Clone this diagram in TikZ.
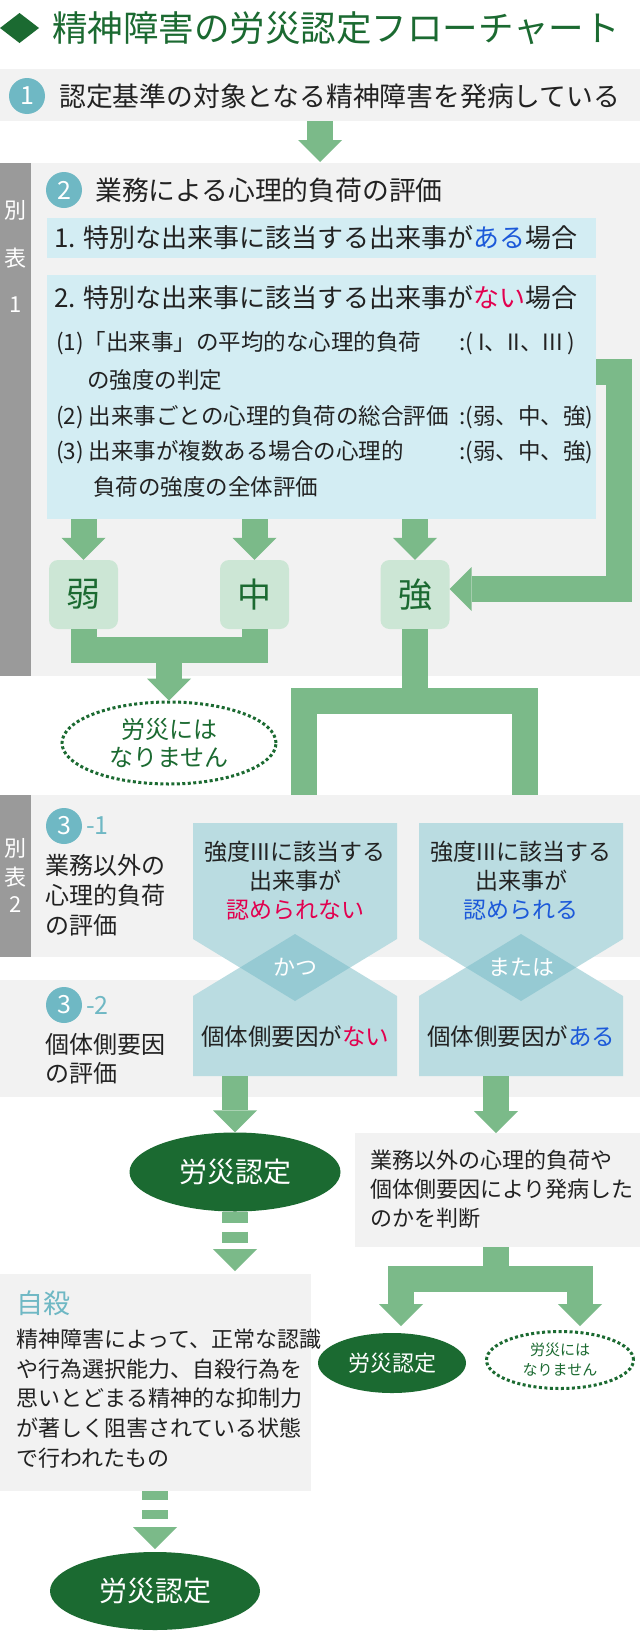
\documentclass[tikz,border=0pt]{standalone}
\usepackage{fontspec}
\setmainfont{Noto Sans CJK JP}
\usetikzlibrary{arrows.meta,shapes.geometric}
\definecolor{dgreen}{HTML}{1B6A31}
\definecolor{agreen}{HTML}{7BBA89}
\definecolor{lgreen}{HTML}{CCE6D5}
\definecolor{cteal}{HTML}{6FB8C4}
\definecolor{lblue}{HTML}{D3EDF3}
\definecolor{mblue}{HTML}{BADCE1}
\definecolor{dblue}{HTML}{96CAD3}
\definecolor{bgrey}{HTML}{F2F2F2}
\definecolor{dgrey}{HTML}{9A9A9A}
\definecolor{tblue}{HTML}{1C59D9}
\definecolor{tred}{HTML}{E2004F}
\definecolor{tblack}{HTML}{222222}
\newcommand\fsz[2]{\fontsize{#1}{#2}\selectfont}
\begin{document}
\begin{tikzpicture}[x=1pt,y=-1pt,
  gline/.style={draw=agreen,line width=26pt},
  garrow/.style={gline,-{Triangle[width=44pt,length=22pt,line width=0pt]}},
  dasharrow/.style={garrow,dash pattern=on 11pt off 9pt},
  dasharrowb/.style={garrow,dash pattern=on 9pt off 10pt},
  txt/.style={inner sep=0pt,text=tblack},
  subl/.style={txt,anchor=west,font=\fsz{22.5}{22.5}},
  numc/.style={circle,fill=cteal,text=white,minimum size=36pt,inner sep=0pt,font=\fsz{25}{25}},
  sidebar/.style={text=white,inner sep=0pt,font=\fsz{22}{22}},
  lvl/.style={fill=lgreen,rounded corners=9pt,minimum width=69pt,minimum height=69pt,inner sep=0pt,text=dgreen,font=\fsz{34}{34}},
  okell/.style={ellipse,fill=dgreen,text=white,inner sep=0pt},
  ngell/.style={ellipse,draw=dgreen,line width=3pt,dash pattern=on 3pt off 2.5pt,text=dgreen,inner sep=0pt,align=center},
  panel/.style={anchor=north west,inner sep=0pt,outer sep=0pt},
]
\useasboundingbox (0,0) rectangle (640,1638);
\fill[white] (0,0) rectangle (640,1638);

% title
\fill[dgreen] (0,28) -- (19.5,13) -- (39,28) -- (19.5,43) -- cycle;
\node[txt,anchor=west,text=dgreen,font=\fsz{35.5}{35.5}] (title) at (52,28) {精神障害の労災認定フローチャート};

% step 1
\fill[bgrey] (0,69) rectangle (640,121);
\node[numc] (n1) at (27,96) {1};
\node[txt,anchor=west,font=\fsz{26.8}{26.8}] (t1) at (59,96) {認定基準の対象となる精神障害を発病している};
\coordinate (s1b) at (320,121);
\coordinate (s2t) at (320,162);
\draw[garrow] (s1b) -- (s2t);

% step 2 section
\fill[dgrey] (0,163) rectangle (31,676);
\fill[bgrey] (31,163) rectangle (640,676);
\node[sidebar] (sb1a) at (16,210) {別};
\node[sidebar] (sb1b) at (16,258) {表};
\node[sidebar] (sb1c) at (16,305) {1};
\node[numc] (n2) at (64,190) {2};
\node[txt,anchor=west,font=\fsz{26.8}{26.8}] (t2) at (95,190) {業務による心理的負荷の評価};

\node[panel,fill=lblue,minimum width=549pt,minimum height=40pt] (box1) at (47,218) {};
\node[txt,anchor=west,font=\fsz{26}{26}] (box1t) at (54,238) {1. 特別な出来事に該当する出来事が\textcolor{tblue}{ある}場合};

\node[panel,fill=lblue,minimum width=549pt,minimum height=244pt] (box2) at (47,275) {};
\node[txt,anchor=west,font=\fsz{26}{26}] (box2t) at (54,298) {2. 特別な出来事に該当する出来事が\textcolor{tred}{ない}場合};
\node[subl] (l1a) at (56,343) {(1)「出来事」の平均的な心理的負荷};
\node[subl] (l1b) at (459,343) {:( I、II、III )};
\node[subl] (l1c) at (87,380) {の強度の判定};
\node[subl] (l2a) at (56,417) {(2) 出来事ごとの心理的負荷の総合評価};
\node[subl] (l2b) at (459,417) {:(弱、中、強)};
\node[subl] (l3a) at (56,452) {(3) 出来事が複数ある場合の心理的};
\node[subl] (l3b) at (459,452) {:(弱、中、強)};
\node[subl] (l3c) at (93,487) {負荷の強度の全体評価};

\node[lvl] (lw) at (83.5,594.5) {弱};
\node[lvl] (lm) at (254.5,594.5) {中};
\node[lvl] (ls) at (415,594.5) {強};

\draw[garrow] (box2.south -| lw) -- (lw.north);
\draw[garrow] (box2.south -| lm) -- (lm.north);
\draw[garrow] (box2.south -| ls) -- (ls.north);
\draw[garrow] ([yshift=25pt]box2.east) -- ++(23,0) |- ([yshift=5.5pt]ls.east);

% weak / middle -> not recognized
\node[ngell,minimum width=214pt,minimum height=82pt,font=\fsz{24}{28}] (ng1) at (169,743) {労災には\\なりません};
\draw[gline] (lw.south) -- ++(0,21) -| (lm.south);
\coordinate (j1) at (169,650);
\draw[garrow] (j1) -- (ng1.north);

% strong -> step 3
\coordinate (j2) at (415,701);
\coordinate (c31L) at (304,823);
\coordinate (c31R) at (525,823);
\draw[gline] (ls.south) -- (j2);
\draw[garrow] (j2) -| (c31L);
\draw[garrow] (j2) -| (c31R);

% step 3-1 band
\fill[dgrey] (0,795) rectangle (31,957);
\fill[bgrey] (31,795) rectangle (640,957);
% step 3-2 band
\fill[bgrey] (0,980) rectangle (640,1097);

\node[sidebar] (sb2a) at (16,848) {別};
\node[sidebar] (sb2b) at (16,877) {表};
\node[sidebar] (sb2c) at (16,905) {2};
\node[numc] (n31) at (64,826) {3};
\node[txt,anchor=west,text=cteal,font=\fsz{25}{25}] (n31b) at (86,826) {-1};
\node[txt,anchor=west,align=left,font=\fsz{24}{30}] (t31) at (45,895) {業務以外の\\心理的負荷\\の評価};
\node[numc] (n32) at (64,1005) {3};
\node[txt,anchor=west,text=cteal,font=\fsz{25}{25}] (n32b) at (86,1005) {-2};
\node[txt,anchor=west,align=left,font=\fsz{24}{29}] (t32) at (45,1059) {個体側要因\\の評価};

% left column shapes
\fill[mblue] (193,823) -- (397,823) -- (397,939) -- (295,1001) -- (193,939) -- cycle;
\fill[mblue] (193,996) -- (295,934) -- (397,996) -- (397,1076) -- (193,1076) -- cycle;
\fill[dblue] (295,934) -- (350,967.5) -- (295,1001) -- (240,967.5) -- cycle;
% right column shapes
\fill[mblue] (419,823) -- (623,823) -- (623,939) -- (521,1001) -- (419,939) -- cycle;
\fill[mblue] (419,996) -- (521,934) -- (623,996) -- (623,1076) -- (419,1076) -- cycle;
\fill[dblue] (521,934) -- (576,967.5) -- (521,1001) -- (466,967.5) -- cycle;

\node[txt,align=center,font=\fsz{23}{29}] (q1) at (295,881) {強度IIIに該当する\\出来事が\\\textcolor{tred}{認められない}};
\node[txt,align=center,font=\fsz{23}{29}] (q2) at (521,881) {強度IIIに該当する\\出来事が\\\textcolor{tblue}{認められる}};
\node[txt,text=white,font=\fsz{22}{22}] (k1) at (295,967) {かつ};
\node[txt,text=white,font=\fsz{22}{22}] (k2) at (521,967) {または};
\node[txt,font=\fsz{23.5}{23.5}] (p1) at (295,1037) {個体側要因が\textcolor{tred}{ない}};
\node[txt,font=\fsz{23.5}{23.5}] (p2) at (521,1037) {個体側要因が\textcolor{tblue}{ある}};

% results
\node[okell,minimum width=211pt,minimum height=79pt,font=\fsz{28}{28}] (ok1) at (235,1172) {労災認定};
\coordinate (b32L) at (235,1076);
\draw[garrow] (b32L) -- (ok1.north);

\node[panel,fill=bgrey,minimum width=285pt,minimum height=114pt] (judge) at (355,1133) {};
\node[txt,anchor=west,align=left,font=\fsz{22}{29}] (judget) at (370,1189) {業務以外の心理的負荷や\\個体側要因により発病した\\のかを判断};
\coordinate (b32R) at (496,1076);
\draw[garrow] (b32R) -- (judge.north -| b32R);

\coordinate (j3) at (496,1279);
\coordinate (t2L) at (401,1326);
\coordinate (t2R) at (580,1326);
\draw[gline] (judge.south -| j3) -- (j3);
\draw[garrow] (j3) -| (t2L);
\draw[garrow] (j3) -| (t2R);
\node[okell,minimum width=148pt,minimum height=60pt,font=\fsz{22}{22}] (ok2) at (392,1363) {労災認定};
\node[ngell,minimum width=147pt,minimum height=57pt,font=\fsz{15}{20}] (ng2) at (560,1360) {労災には\\なりません};

% suicide
\coordinate (d1) at (235,1271);
\draw[dasharrow] (ok1.south) -- (d1);
\node[panel,fill=bgrey,minimum width=311pt,minimum height=217pt] (sui) at (0,1274) {};
\node[txt,anchor=west,text=cteal,font=\fsz{27}{27}] (suit) at (16,1303) {自殺};
\node[txt,anchor=west,align=left,font=\fsz{22}{29.75}] (suib) at (16,1398.5) {精神障害によって、正常な認識\\や行為選択能力、自殺行為を\\思いとどまる精神的な抑制力\\が著しく阻害されている状態\\で行われたもの};
\node[okell,minimum width=210pt,minimum height=78pt,font=\fsz{28}{28}] (ok3) at (155,1591) {労災認定};
\coordinate (d2) at (155,1549);
\draw[dasharrowb] (sui.south -| d2) -- (d2);
\end{tikzpicture}
\end{document}
